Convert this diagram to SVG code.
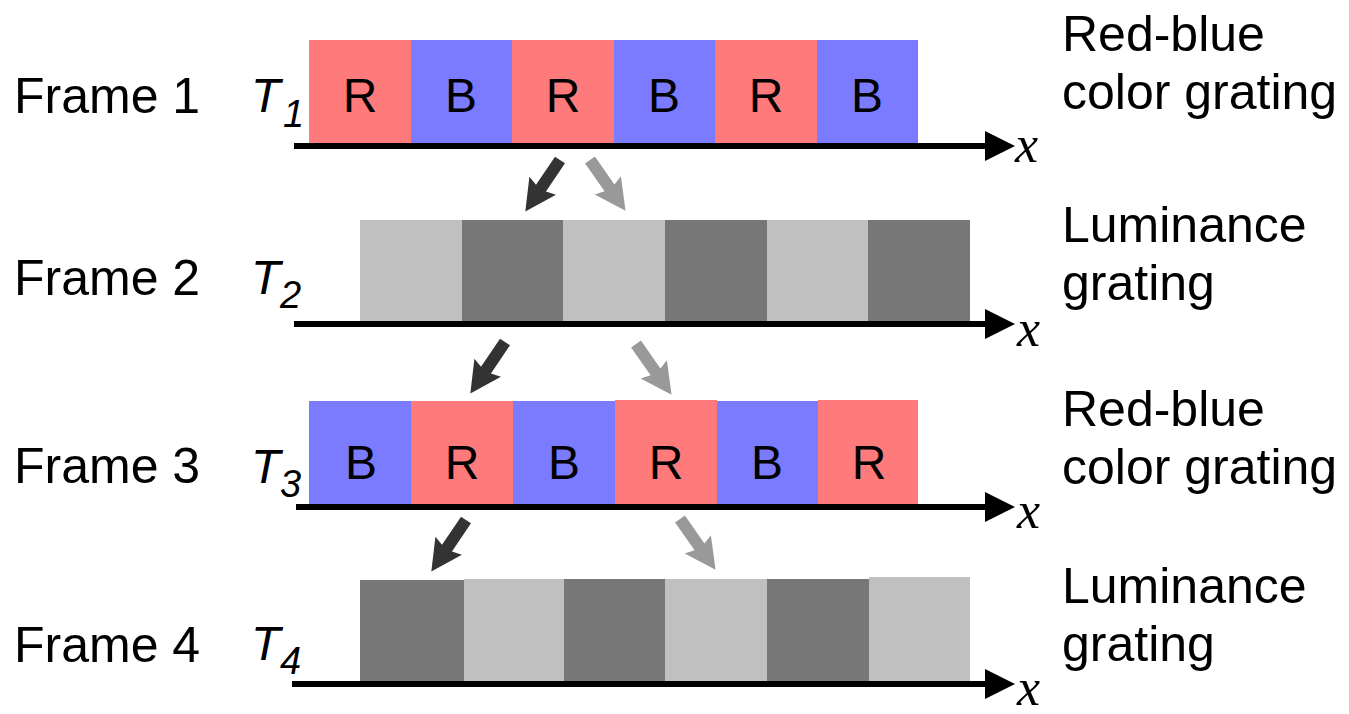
<svg xmlns="http://www.w3.org/2000/svg" width="1349" height="714" viewBox="0 0 1349 714">
<style>
.lbl{font-family:"Liberation Sans",Arial,sans-serif;font-size:50px;fill:#000}
.cell{font-family:"Liberation Sans",Arial,sans-serif;font-size:48px;fill:#000;text-anchor:middle}
.t{font-family:"Liberation Sans",Arial,sans-serif;font-style:italic;font-size:48px;fill:#000}
.sub{font-family:"Liberation Sans",Arial,sans-serif;font-style:italic;font-size:38px;fill:#000}
.x{font-family:"Liberation Serif","Times New Roman",serif;font-style:italic;font-size:52px;fill:#000}
.r{fill:#ff7b7b}.b{fill:#7b7bff}.lt{fill:#c0c0c0}.dk{fill:#777777}
.axis{stroke:#000;stroke-width:6;fill:none}
.dark{fill:#333333}.gray{fill:#999999}
</style>
<defs>
<polygon id="arr" points="0,-6 34,-6 31,-16 62,0 31,16 34,6 0,6"/>
<polygon id="axh" points="0,-15 30,0 0,15"/>
</defs>

<g id="frame1">
<text class="lbl" x="14" y="113">Frame 1</text>
<text class="t" x="251" y="112">T</text>
<text class="sub" x="283" y="127">1</text>
<rect class="r" x="309" y="40" width="102" height="104"/>
<rect class="b" x="411" y="40" width="101" height="104"/>
<rect class="r" x="512" y="40" width="102" height="104"/>
<rect class="b" x="614" y="40" width="101" height="104"/>
<rect class="r" x="715" y="40" width="102" height="104"/>
<rect class="b" x="817" y="40" width="101" height="104"/>
<text class="cell" x="360" y="112">R</text>
<text class="cell" x="461" y="112">B</text>
<text class="cell" x="563" y="112">R</text>
<text class="cell" x="664" y="112">B</text>
<text class="cell" x="766" y="112">R</text>
<text class="cell" x="867" y="112">B</text>
<line class="axis" x1="294" y1="146" x2="990" y2="146"/>
<use href="#axh" x="985" y="146"/>
<text class="x" x="1015" y="162">x</text>
<text class="lbl" x="1062" y="51">Red-blue</text>
<text class="lbl" x="1062" y="109">color grating</text>
</g>

<g id="frame2">
<text class="lbl" x="14" y="295">Frame 2</text>
<text class="t" x="251" y="294">T</text>
<text class="sub" x="280" y="308">2</text>
<rect class="lt" x="360" y="220" width="102" height="104"/>
<rect class="dk" x="462" y="220" width="101" height="104"/>
<rect class="lt" x="563" y="220" width="102" height="104"/>
<rect class="dk" x="665" y="220" width="102" height="104"/>
<rect class="lt" x="767" y="220" width="101" height="104"/>
<rect class="dk" x="868" y="220" width="102" height="104"/>
<line class="axis" x1="294" y1="324" x2="990" y2="324"/>
<use href="#axh" x="985" y="324"/>
<text class="x" x="1017" y="346">x</text>
<text class="lbl" x="1062" y="242">Luminance</text>
<text class="lbl" x="1062" y="300">grating</text>
</g>

<g id="frame3">
<text class="lbl" x="14" y="483">Frame 3</text>
<text class="t" x="251" y="483">T</text>
<text class="sub" x="280" y="497">3</text>
<rect class="b" x="309" y="401" width="102" height="105"/>
<rect class="r" x="411" y="401" width="102" height="105"/>
<rect class="b" x="513" y="401" width="102" height="105"/>
<rect class="r" x="615" y="400" width="102" height="106"/>
<rect class="b" x="717" y="401" width="101" height="105"/>
<rect class="r" x="818" y="400" width="100" height="106"/>
<text class="cell" x="361" y="479">B</text>
<text class="cell" x="462" y="479">R</text>
<text class="cell" x="564" y="479">B</text>
<text class="cell" x="666" y="479">R</text>
<text class="cell" x="767" y="479">B</text>
<text class="cell" x="869" y="479">R</text>
<line class="axis" x1="296" y1="507" x2="990" y2="507"/>
<use href="#axh" x="985" y="507"/>
<text class="x" x="1017" y="528">x</text>
<text class="lbl" x="1062" y="426">Red-blue</text>
<text class="lbl" x="1062" y="484">color grating</text>
</g>

<g id="frame4">
<text class="lbl" x="14" y="662">Frame 4</text>
<text class="t" x="251" y="660">T</text>
<text class="sub" x="280" y="674">4</text>
<rect class="dk" x="360" y="580" width="104" height="103"/>
<rect class="lt" x="464" y="579" width="100" height="104"/>
<rect class="dk" x="564" y="579" width="101" height="104"/>
<rect class="lt" x="665" y="579" width="102" height="104"/>
<rect class="dk" x="767" y="579" width="102" height="104"/>
<rect class="lt" x="869" y="577" width="101" height="106"/>
<line class="axis" x1="292" y1="684" x2="990" y2="684"/>
<use href="#axh" x="985" y="684"/>
<text class="x" x="1017" y="705">x</text>
<text class="lbl" x="1062" y="603">Luminance</text>
<text class="lbl" x="1062" y="661">grating</text>
</g>

<g id="connectors">
<use href="#arr" class="dark" transform="translate(560,160) rotate(124)"/>
<use href="#arr" class="gray" transform="translate(590,160) rotate(55)"/>
<use href="#arr" class="dark" transform="translate(505,342) rotate(124)"/>
<use href="#arr" class="gray" transform="translate(636,344) rotate(55)"/>
<use href="#arr" class="dark" transform="translate(466,520) rotate(124)"/>
<use href="#arr" class="gray" transform="translate(680,519) rotate(55)"/>
</g>
</svg>
